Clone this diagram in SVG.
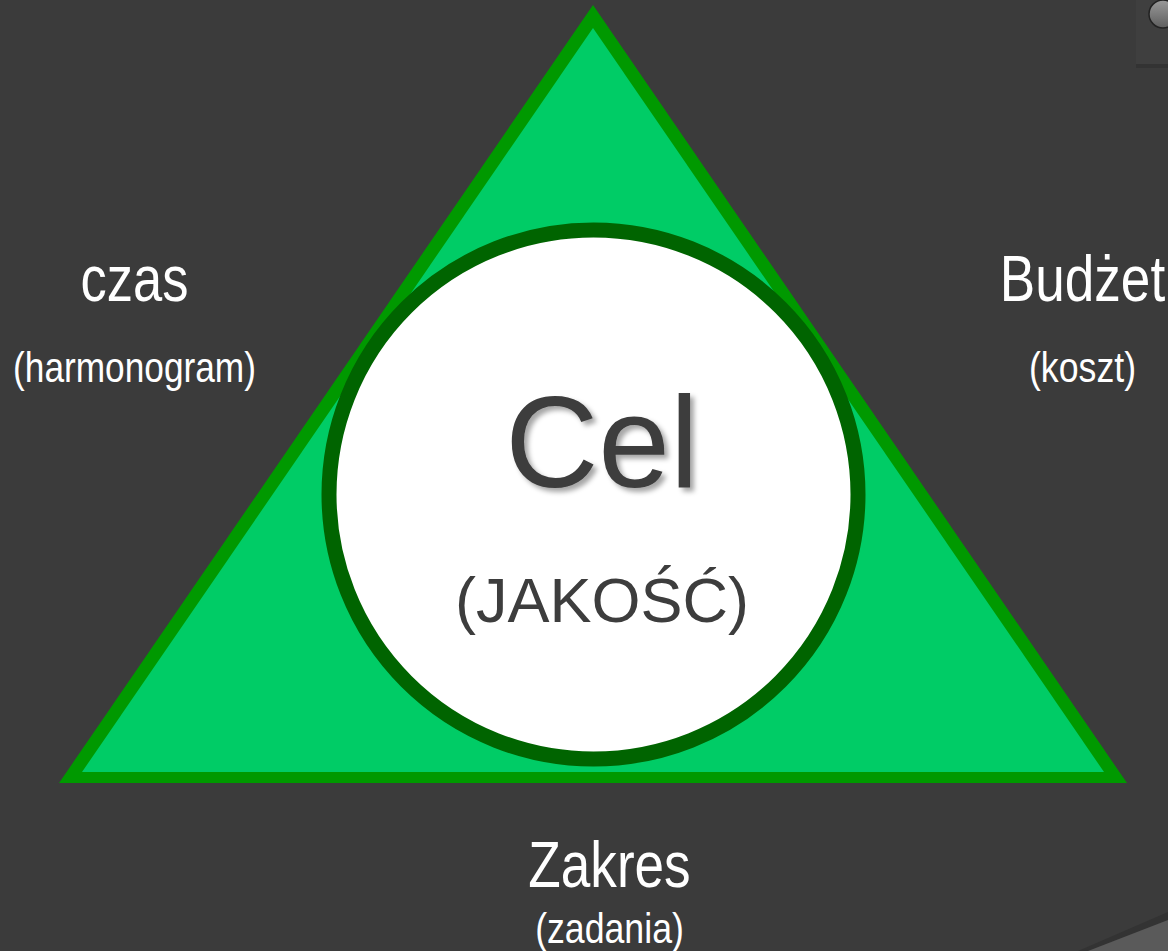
<svg xmlns="http://www.w3.org/2000/svg" width="1168" height="951" viewBox="0 0 1168 951">
<defs>
<style>
.lbl{font-family:"Liberation Sans",Arial,sans-serif;fill:#ffffff;text-anchor:middle}
.big{font-size:64px}
.small{font-size:43px}
.dark{font-family:"Liberation Sans",Arial,sans-serif;fill:#3d3d3d;text-anchor:middle}
</style>
<filter id="sh" x="-20%" y="-20%" width="140%" height="140%">
<feDropShadow dx="4" dy="4" stdDeviation="2.5" flood-color="#000" flood-opacity="0.35"/>
</filter>
<linearGradient id="knob" x1="0" y1="0" x2="0" y2="1">
<stop offset="0" stop-color="#9a9a9a"/>
<stop offset="1" stop-color="#5e5e5e"/>
</linearGradient>
</defs>
<rect width="1168" height="951" fill="#3b3b3b"/>
<g id="corner-top">
<rect x="1136" y="0" width="32" height="66" fill="#3f3f3f"/>
<rect x="1136" y="64" width="32" height="4" fill="#333"/>
<circle cx="1163" cy="14" r="14" fill="url(#knob)" stroke="#222" stroke-width="1.5"/>
</g>
<g id="corner-bottom">
<polygon points="1078,951 1168,912 1168,951" fill="#333"/>
<polygon points="1088,951 1168,920 1168,951" fill="#5a5a5a"/>
</g>
<g id="triangle">
<polygon points="593,5 59,783 1127,783" fill="#009900"/>
<polygon points="593,28 82,772 1104,772" fill="#00cc66"/>
</g>
<g id="circle">
<circle cx="593.5" cy="494.5" r="264.5" fill="#ffffff" stroke="#006400" stroke-width="15"/>
<text class="dark" x="602" y="487" font-size="129" filter="url(#sh)">Cel</text>
<text class="dark" x="602" y="622" font-size="63">(JAKOŚĆ)</text>
</g>
<g id="czas" transform="translate(134.5,0) scale(0.82,1)">
<text class="lbl big" x="0" y="301">czas</text>
<text class="lbl small" x="0" y="382">(harmonogram)</text>
</g>
<g id="budzet" transform="translate(1082.5,0) scale(0.83,1)">
<text class="lbl big" x="0" y="301">Budżet</text>
<text class="lbl small" x="0" y="382">(koszt)</text>
</g>
<g id="zakres" transform="translate(609.5,0) scale(0.83,1)">
<text class="lbl big" x="0" y="887">Zakres</text>
<text class="lbl small" x="0" y="943">(zadania)</text>
</g>
<g id="connectors"></g>
</svg>
